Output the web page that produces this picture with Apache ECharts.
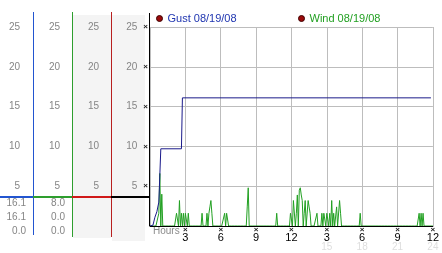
<!DOCTYPE html>
<html><head><meta charset="utf-8">
<script src="https://cdn.jsdelivr.net/npm/echarts@6/dist/echarts.min.js"></script>
<style>html,body{margin:0;padding:0;background:#fff}#c{width:442px;height:253px}</style>
</head><body><div id="c"></div>
<script>
// ---- data ----
const seriesNames = ['Gust 08/19/08', 'Wind 08/19/08'];
// x ticks every 3 hours (0..24), 12-hour labels and faint 24-hour labels
const hourTicks = [0, 3, 6, 9, 12, 15, 18, 21, 24];
const tickLabels = ['', '3', '6', '9', '12', '3', '6', '9', '12'];
const faintLabels = ['', '', '', '', '', '15', '18', '21', '24'];
const yTicks = [0, 5, 10, 15, 20, 25];
const yTickLabels = ['', '5', '10', '15', '20', '25'];
// gust: sample index (5-minute steps) and value
const gustIdx = [0, 3, 5, 7, 9, 11, 32, 33, 286];
const gustVal = [0, 0.1, 1.1, 1.8, 3.0, 9.7, 9.7, 16.1, 16.1];
// wind: non-calm samples (5-minute index) and value; all other samples read 0
const windIdx = [9, 10, 12, 27, 28, 30, 32, 34, 36, 37, 39, 53, 58, 60, 61, 62, 63, 76, 78, 79, 99, 100, 129,
  143, 144, 146, 147, 149, 150, 152, 153, 154, 155, 157, 158, 161, 162, 163,
  170, 175, 177, 178, 180, 181, 183, 185, 187, 190, 193, 194, 214, 274, 276, 278];
const windVal = [1.6, 6.6, 4.0, 1.6, 1.6, 3.2, 1.6, 1.6, 1.6, 1.6, 1.6, 1.6, 1.6, 1.6, 2.4, 3.2, 1.6, 1.6, 1.6, 1.6, 2.4, 4.8, 1.6,
  1.6, 1.6, 3.2, 3.2, 1.6, 3.9, 4.5, 4.8, 3.9, 3.2, 1.6, 3.2, 3.2, 2.4, 1.6,
  1.6, 1.6, 1.6, 1.6, 1.6, 1.6, 1.6, 3.2, 1.6, 2.4, 3.2, 1.6, 1.6, 1.6, 1.6, 1.6];
const windSamples = 289;
// summary stats (max / avg / min) shown under the left columns
const gustStats = ['16.1', '16.1', '0.0'];
const windStats = ['8.0', '0.0', '0.0'];

// ---- build ----
const gustData = gustIdx.map((t, i) => [t / 12, gustVal[i]]);
const windMap = {};
windIdx.forEach((t, i) => windMap[t] = windVal[i]);
const windData = [];
for (let i = 0; i < windSamples; i++) windData.push([i / 12, windMap[i] || 0]);

const FONT = 'Liberation Sans';
const yLab = (v) => yTickLabels[yTicks.indexOf(v)] || '';
function sideAxis(offset, margin) {
  return {
    type: 'value', gridIndex: 0, position: 'left', offset: offset, min: 0, max: 25, interval: 5,
    axisLine: { show: false }, axisTick: { show: false }, splitLine: { show: false },
    axisLabel: { margin: margin, color: '#858585', fontSize: 10, fontFamily: FONT, formatter: yLab }
  };
}

const statText = [];
const statY = [204, 218, 232];
gustStats.forEach((s, i) => statText.push({ type: 'text', right: 442 - 26, top: statY[i] - 6,
  style: { text: s, fill: '#858585', font: '10px ' + FONT, textAlign: 'right' } }));
windStats.forEach((s, i) => statText.push({ type: 'text', right: 442 - 65, top: statY[i] - 6,
  style: { text: s, fill: '#858585', font: '10px ' + FONT, textAlign: 'right' } }));

const option = {
  animation: false,
  backgroundColor: '#fff',
  grid: { left: 150, right: 4, top: 27, bottom: 27 },
  legend: [
    { left: 156, top: 13, itemWidth: 6, itemHeight: 6, padding: 0,
      data: [{ name: seriesNames[0], icon: 'circle', itemStyle: { color: '#9a0a0a', borderColor: '#400000', borderWidth: 1 },
        textStyle: { color: '#1f35b0' } }],
      textStyle: { fontSize: 11, fontFamily: FONT } },
    { left: 298, top: 13, itemWidth: 6, itemHeight: 6, padding: 0,
      data: [{ name: seriesNames[1], icon: 'circle', itemStyle: { color: '#9a0a0a', borderColor: '#400000', borderWidth: 1 },
        textStyle: { color: '#22a022' } }],
      textStyle: { fontSize: 11, fontFamily: FONT } }
  ],
  xAxis: [
    { type: 'value', min: 0, max: 24, interval: 3, z: 0,
      axisLine: { show: false }, axisTick: { show: false }, axisLabel: { show: false },
      splitLine: { show: true, lineStyle: { color: '#bdbdbd', width: 1 } } },
    { type: 'value', min: 0, max: 24, interval: 3, z: 10, position: 'bottom',
      axisLine: { show: true, onZero: false, lineStyle: { color: '#000', width: 1 } },
      axisTick: { show: false }, splitLine: { show: false },
      axisLabel: { margin: 1, showMinLabel: true, showMaxLabel: true,
        formatter: (v) => {
          const i = hourTicks.indexOf(v);
          if (i < 0 || !tickLabels[i]) return '';
          let s = '{x|×}\n{v|' + tickLabels[i] + '}';
          if (faintLabels[i]) s += '\n{f|' + faintLabels[i] + '}';
          return s;
        },
        rich: {
          x: { fontSize: 8, fontWeight: 'bold', lineHeight: 6, color: '#222', fontFamily: FONT },
          v: { fontSize: 11, lineHeight: 10, color: '#000', fontFamily: FONT },
          f: { fontSize: 10, lineHeight: 9, color: '#dedede', fontFamily: FONT }
        } } }
  ],
  yAxis: [
    { type: 'value', min: 0, max: 25, interval: 5, position: 'left',
      axisLine: { show: false }, axisTick: { show: false },
      splitLine: { show: true, lineStyle: { color: '#bdbdbd', width: 1 } },
      axisLabel: { margin: 2, formatter: (v) => { const l = yLab(v); return l ? '{v|' + l + '}{x|×}' : ''; },
        rich: { v: { color: '#858585', fontSize: 10, fontFamily: FONT },
                x: { color: '#222', fontSize: 8, fontWeight: 'bold', fontFamily: FONT, padding: [0, 0, 0, 6] } } } },
    sideAxis(39, 12),
    sideAxis(78, 12),
    sideAxis(117, 13)
  ],
  series: [
    { name: seriesNames[1], type: 'line', xAxisIndex: 0, yAxisIndex: 0, data: windData, showSymbol: false, symbol: 'none',
      lineStyle: { color: '#22a022', width: 1 }, itemStyle: { color: '#22a022' }, z: 2 },
    { name: seriesNames[0], type: 'line', xAxisIndex: 0, yAxisIndex: 0, data: gustData, showSymbol: false, symbol: 'none',
      lineStyle: { color: '#1a1a8a', width: 1 }, itemStyle: { color: '#1a1a8a' }, z: 3 }
  ],
  graphic: [
    { type: 'rect', shape: { x: 73, y: 15, width: 38, height: 223 }, style: { fill: '#f4f4f4' }, z: -10 },
    { type: 'rect', shape: { x: 112, y: 15, width: 33, height: 226 }, style: { fill: '#f4f4f4' }, z: -10 },
    { type: 'line', shape: { x1: 33.5, y1: 12, x2: 33.5, y2: 235 }, style: { stroke: '#2255d0', lineWidth: 1 } },
    { type: 'line', shape: { x1: 72.5, y1: 12, x2: 72.5, y2: 237 }, style: { stroke: '#2e9e2e', lineWidth: 1 } },
    { type: 'line', shape: { x1: 111.5, y1: 12, x2: 111.5, y2: 237 }, style: { stroke: '#b82020', lineWidth: 1 } },
    { type: 'line', shape: { x1: 149.5, y1: 13, x2: 149.5, y2: 226 }, style: { stroke: '#000', lineWidth: 1 }, z: 20 },
    { type: 'line', shape: { x1: 0, y1: 197, x2: 33, y2: 197 }, style: { stroke: '#2255d0', lineWidth: 2 } },
    { type: 'line', shape: { x1: 33, y1: 197, x2: 72, y2: 197 }, style: { stroke: '#2e9e2e', lineWidth: 2 } },
    { type: 'line', shape: { x1: 72, y1: 197, x2: 111, y2: 197 }, style: { stroke: '#d01818', lineWidth: 2 } },
    { type: 'line', shape: { x1: 111, y1: 197, x2: 149, y2: 197 }, style: { stroke: '#000', lineWidth: 2 } },
    { type: 'text', left: 153, top: 226, style: { text: 'Hours', fill: '#8a8a8a', font: '10px ' + FONT } }
  ].concat(statText)
};
const chart = echarts.init(document.getElementById('c'), null, { renderer: 'canvas' });
chart.setOption(option);
</script></body></html>
